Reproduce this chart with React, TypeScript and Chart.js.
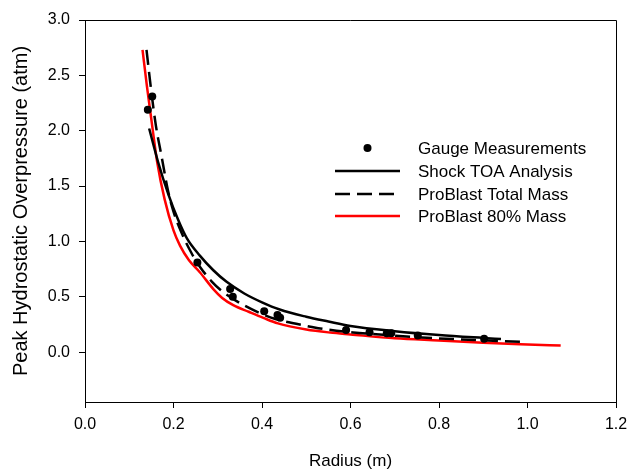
import React, { useEffect, useRef } from "react";
import { Chart, registerables } from "chart.js";

Chart.register(...registerables);

const xTickValues = [0, 0.2, 0.4, 0.6, 0.8, 1.0, 1.2];
const yTickValues = [0, 0.5, 1.0, 1.5, 2.0, 2.5, 3.0];

const legendLabels = ["Gauge Measurements", "Shock TOA Analysis", "ProBlast Total Mass", "ProBlast 80% Mass"];

const gaugeR = [0.142, 0.152, 0.254, 0.328, 0.334, 0.405, 0.435, 0.441, 0.59, 0.643, 0.682, 0.692, 0.752, 0.902];
const gaugeP = [2.19, 2.31, 0.81, 0.57, 0.5, 0.37, 0.335, 0.31, 0.2, 0.18, 0.17, 0.17, 0.15, 0.122];

const toaR = [0.145, 0.165, 0.188, 0.21, 0.23, 0.26, 0.29, 0.32, 0.36, 0.4, 0.44, 0.5, 0.55, 0.6, 0.7, 0.8, 0.9, 0.94];
const toaP = [2.02, 1.72, 1.43, 1.2, 1.03, 0.87, 0.74, 0.635, 0.53, 0.45, 0.385, 0.32, 0.277, 0.237, 0.19, 0.155, 0.128, 0.118];

const totalR = [0.139, 0.15, 0.16, 0.173, 0.188, 0.2, 0.218, 0.24, 0.26, 0.286, 0.31, 0.339, 0.388, 0.43, 0.471, 0.527, 0.606, 0.682, 0.75, 0.85, 0.99];
const totalP = [2.73, 2.35, 2.05, 1.77, 1.45, 1.27, 1.08, 0.9, 0.77, 0.64, 0.55, 0.47, 0.366, 0.3, 0.262, 0.217, 0.178, 0.155, 0.135, 0.115, 0.093];

const r80 = [0.13, 0.14, 0.15, 0.163, 0.18, 0.2, 0.215, 0.235, 0.26, 0.29, 0.31, 0.335, 0.37, 0.403, 0.436, 0.5, 0.554, 0.6, 0.7, 0.8, 0.9, 1.0, 1.075];
const p80 = [2.73, 2.4, 2.1, 1.72, 1.38, 1.1, 0.96, 0.83, 0.72, 0.57, 0.49, 0.425, 0.365, 0.31, 0.26, 0.205, 0.177, 0.16, 0.125, 0.105, 0.085, 0.07, 0.06];

const pts = (xs: number[], ys: number[]) => xs.map((x, i) => ({ x, y: ys[i] }));

const FONT = "'Liberation Sans', Arial, sans-serif";

const framePlugin = {
  id: "frameAndLegend",
  afterDraw(chart: any) {
    const { ctx, chartArea } = chart;
    const { left, right, top, bottom } = chartArea;
    ctx.save();
    ctx.strokeStyle = "#000";
    ctx.lineWidth = 1;
    ctx.beginPath();
    ctx.moveTo(left, top + 0.5);
    ctx.lineTo(right + 0.5, top + 0.5);
    ctx.lineTo(right + 0.5, bottom);
    ctx.stroke();

    // legend
    const lx0 = 335;
    const lx1 = 400;
    const tx = 418;
    const ys = [148, 171, 194, 216];
    ctx.fillStyle = "#000";
    ctx.beginPath();
    ctx.arc((lx0 + lx1) / 2, ys[0], 4, 0, Math.PI * 2);
    ctx.fill();

    ctx.lineWidth = 2.5;
    ctx.strokeStyle = "#000";
    ctx.beginPath();
    ctx.moveTo(lx0, ys[1]);
    ctx.lineTo(lx1, ys[1]);
    ctx.stroke();

    ctx.setLineDash([15, 7]);
    ctx.beginPath();
    ctx.moveTo(lx0, ys[2]);
    ctx.lineTo(lx1 - 5, ys[2]);
    ctx.stroke();
    ctx.setLineDash([]);

    ctx.strokeStyle = "#ff0000";
    ctx.beginPath();
    ctx.moveTo(lx0, ys[3]);
    ctx.lineTo(lx1, ys[3]);
    ctx.stroke();

    ctx.font = `17px ${FONT}`;
    ctx.textBaseline = "middle";
    ctx.textAlign = "left";
    ctx.fillStyle = "#000";
    legendLabels.forEach((t, i) => ctx.fillText(t, tx, ys[i] + 1));
    ctx.restore();
  },
};

export default function App() {
  const ref = useRef<HTMLCanvasElement | null>(null);

  useEffect(() => {
    if (!ref.current) return;
    Chart.defaults.font.family = FONT;
    Chart.defaults.color = "#000";
    const chart = new Chart(ref.current, {
      type: "scatter",
      data: {
        datasets: [
          {
            label: legendLabels[0],
            data: pts(gaugeR, gaugeP),
            showLine: false,
            pointRadius: 4,
            pointBackgroundColor: "#000",
            pointBorderColor: "#000",
            pointBorderWidth: 0,
          },
          {
            label: legendLabels[1],
            data: pts(toaR, toaP),
            showLine: true,
            borderColor: "#000",
            borderWidth: 2.5,
            pointRadius: 0,
            cubicInterpolationMode: "monotone",
          },
          {
            label: legendLabels[2],
            data: pts(totalR, totalP),
            showLine: true,
            borderColor: "#000",
            borderWidth: 2.5,
            borderDash: [15, 7],
            pointRadius: 0,
            cubicInterpolationMode: "monotone",
          },
          {
            label: legendLabels[3],
            data: pts(r80, p80),
            showLine: true,
            borderColor: "#ff0000",
            borderWidth: 2.5,
            pointRadius: 0,
            cubicInterpolationMode: "monotone",
          },
        ],
      } as any,
      options: {
        animation: false,
        responsive: false,
        layout: { padding: { left: 0, top: 20, right: 14, bottom: 0 } },
        plugins: { legend: { display: false }, tooltip: { enabled: false } },
        scales: {
          x: {
            type: "linear",
            min: 0,
            max: 1.2,
            afterBuildTicks: (s: any) => {
              s.ticks = xTickValues.map((v) => ({ value: v }));
            },
            afterFit: (s: any) => {
              s.height = 69;
              s.paddingLeft = 0;
              s.paddingRight = 0;
            },
            ticks: {
              font: { size: 16 },
              color: "#000",
              padding: 7,
              maxRotation: 0,
              callback: (v: any) => Number(v).toFixed(1),
            },
            grid: { drawOnChartArea: false, drawTicks: true, tickLength: 6, color: "#000" },
            border: { color: "#000", width: 1 },
            title: { display: true, text: "Radius (m)", font: { size: 17 }, color: "#000", padding: { top: 0, bottom: -1 } },
          },
          y: {
            type: "linear",
            min: -0.45,
            max: 3.0,
            afterBuildTicks: (s: any) => {
              s.ticks = yTickValues.map((v) => ({ value: v }));
            },
            afterFit: (s: any) => {
              s.width = 85;
              s.paddingTop = 0;
              s.paddingBottom = 0;
            },
            ticks: {
              font: { size: 16 },
              color: "#000",
              padding: 9,
              callback: (v: any) => Number(v).toFixed(1),
            },
            grid: { drawOnChartArea: false, drawTicks: true, tickLength: 6, color: "#000" },
            border: { color: "#000", width: 1 },
            title: {
              display: true,
              text: "Peak Hydrostatic Overpressure (atm)",
              font: { size: 20 },
              color: "#000",
              padding: { top: 9, bottom: 0 },
            },
          },
        },
      },
      plugins: [framePlugin],
    });
    return () => chart.destroy();
  }, []);

  return (
    <div style={{ position: "fixed", left: 0, top: 0, width: 630, height: 471, background: "#fff" }}>
      <canvas ref={ref} width={630} height={471} style={{ width: 630, height: 471 }} />
    </div>
  );
}
